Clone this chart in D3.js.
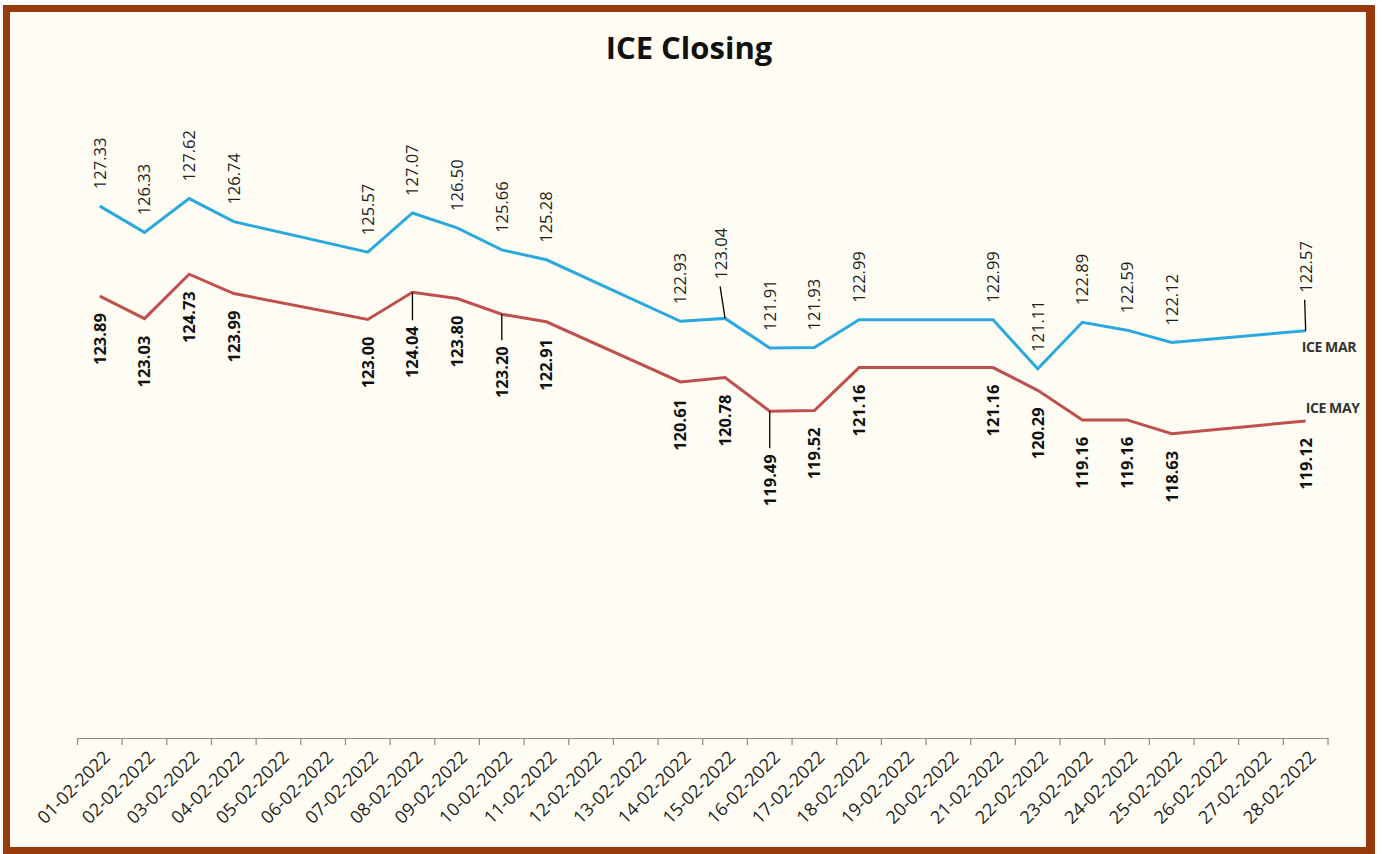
<!DOCTYPE html>
<html>
<head>
<meta charset="utf-8">
<script src="https://cdn.jsdelivr.net/npm/d3@7/dist/d3.min.js"></script>
<style>
  html, body { margin: 0; padding: 0; background: #ffffff; }
  svg { display: block; }
</style>
</head>
<body>
<svg id="chart" width="1382" height="854"></svg>
<script>
// ---------------- DATA ----------------
const chartTitle = "ICE Closing";
const categories = [
  "01-02-2022","02-02-2022","03-02-2022","04-02-2022","05-02-2022","06-02-2022","07-02-2022",
  "08-02-2022","09-02-2022","10-02-2022","11-02-2022","12-02-2022","13-02-2022","14-02-2022",
  "15-02-2022","16-02-2022","17-02-2022","18-02-2022","19-02-2022","20-02-2022","21-02-2022",
  "22-02-2022","23-02-2022","24-02-2022","25-02-2022","26-02-2022","27-02-2022","28-02-2022"
];
const tradeDates = [
  "01-02-2022","02-02-2022","03-02-2022","04-02-2022","07-02-2022","08-02-2022","09-02-2022",
  "10-02-2022","11-02-2022","14-02-2022","15-02-2022","16-02-2022","17-02-2022","18-02-2022",
  "21-02-2022","22-02-2022","23-02-2022","24-02-2022","25-02-2022","28-02-2022"
];
const iceMar = [127.33,126.33,127.62,126.74,125.57,127.07,126.50,125.66,125.28,122.93,
                123.04,121.91,121.93,122.99,122.99,121.11,122.89,122.59,122.12,122.57];
const iceMay = [123.89,123.03,124.73,123.99,123.00,124.04,123.80,123.20,122.91,120.61,
                120.78,119.49,119.52,121.16,121.16,120.29,119.16,119.16,118.63,119.12];
const seriesNames = ["ICE MAR", "ICE MAY"];

// ---------------- LAYOUT ----------------
const W = 1382, H = 854;
const plot = { left: 77.5, right: 1328, top: 84, bottom: 738 };
const colors = { mar: "#2BA9DE", may: "#C0504D", frame: "#983A0C", bg: "#FFFDF3" };
const FONT = "'Open Sans', Lato, sans-serif";

// label placement tweaks (distance from point to near end of label, horizontal shift, leader)
const labelTweaks = {
  "ICE MAR|15-02-2022": { off: 39, dx: -4, leader: true },
  "ICE MAR|28-02-2022": { off: 38, dx: 0, leader: true },
  "ICE MAY|08-02-2022": { off: 34, dx: 0, leader: true },
  "ICE MAY|10-02-2022": { off: 32, dx: 0, leader: true },
  "ICE MAY|16-02-2022": { off: 43, dx: 0, leader: true }
};

const svg = d3.select("#chart");

// frame
svg.append("rect").attr("x", 3).attr("y", 5).attr("width", 1372).attr("height", 849)
  .attr("fill", colors.frame);
svg.append("rect").attr("x", 10).attr("y", 12).attr("width", 1356).attr("height", 835)
  .attr("fill", "#F9FBF8");
svg.append("rect").attr("x", 12).attr("y", 14).attr("width", 1352).attr("height", 831)
  .attr("fill", colors.bg);

// scales
const x = d3.scaleBand().domain(categories).range([plot.left, plot.right]).padding(0);
const y = d3.scaleLinear().domain([107, 132]).range([plot.bottom, plot.top]);
const cx = d => x(d) + x.bandwidth() / 2;

// title
svg.append("text")
  .attr("x", 689).attr("y", 59)
  .attr("text-anchor", "middle")
  .attr("font-family", FONT).attr("font-weight", 700).attr("font-size", 31)
  .attr("fill", "#111")
  .text(chartTitle);

// x axis
const axisG = svg.append("g").attr("transform", `translate(0,${plot.bottom})`);
const axis = d3.axisBottom(x).tickSize(0).tickSizeOuter(0);
axisG.call(axis);
axisG.select(".domain").attr("stroke", "#8A8A8A").attr("stroke-width", 1.2);
axisG.selectAll(".tick text")
  .attr("font-family", FONT).attr("font-size", 18).attr("fill", "#1E1E1E")
  .attr("text-anchor", "end")
  .attr("transform", "translate(7,16) rotate(-45)")
  .attr("y", 0).attr("x", 0).attr("dy", "0.35em");
// boundary tick marks
const bounds = categories.map(d => x(d)).concat([x.range()[1]]);
axisG.selectAll("line.btick").data(bounds).join("line")
  .attr("class", "btick")
  .attr("x1", d => d).attr("x2", d => d)
  .attr("y1", 0).attr("y2", 7)
  .attr("stroke", "#8A8A8A").attr("stroke-width", 1.2);

// series
const series = [
  { name: seriesNames[0], values: iceMar, color: colors.mar, above: true },
  { name: seriesNames[1], values: iceMay, color: colors.may, above: false }
];
const line = d3.line().x(d => cx(d.date)).y(d => y(d.v));

series.forEach(s => {
  const pts = tradeDates.map((d, i) => ({ date: d, v: s.values[i] }));
  svg.append("path").datum(pts)
    .attr("fill", "none").attr("stroke", s.color).attr("stroke-width", 3)
    .attr("stroke-linejoin", "miter")
    .attr("d", line);

  const g = svg.append("g");
  pts.forEach(p => {
    const tw = labelTweaks[s.name + "|" + p.date] || { off: 17, dx: 0, leader: false };
    const px = cx(p.date), py = y(p.v);
    const lx = px + tw.dx;
    const ly = s.above ? py - tw.off : py + tw.off;
    if (tw.leader) {
      const ey = s.above ? ly + 7 : ly - 6;
      g.append("line")
        .attr("x1", px).attr("y1", py)
        .attr("x2", lx + (s.above ? -1 : 0)).attr("y2", ey)
        .attr("stroke", "#000").attr("stroke-width", 1.3);
    }
    g.append("text")
      .attr("transform", `translate(${lx},${ly}) rotate(-90)`)
      .attr("text-anchor", s.above ? "start" : "end")
      .attr("dy", "0.36em")
      .attr("font-family", FONT)
      .attr("font-size", s.above ? 16.5 : 16.5)
      .attr("font-weight", s.above ? 400 : 700)
      .attr("fill", s.above ? "#1E1E1E" : "#111")
      .text(p.v.toFixed(2));
  });
});

// series name labels
const lastMar = iceMar[iceMar.length - 1], lastMay = iceMay[iceMay.length - 1];
const lastDate = tradeDates[tradeDates.length - 1];
svg.append("text")
  .attr("x", cx(lastDate) - 4).attr("y", y(lastMar) + 16)
  .attr("dy", "0.35em")
  .attr("font-family", FONT).attr("font-weight", 700).attr("font-size", 14)
  .attr("letter-spacing", -0.4)
  .attr("fill", "#333").text(seriesNames[0]);
svg.append("text")
  .attr("x", cx(lastDate)).attr("y", y(lastMay) - 13)
  .attr("dy", "0.35em")
  .attr("font-family", FONT).attr("font-weight", 700).attr("font-size", 14)
  .attr("letter-spacing", -0.4)
  .attr("fill", "#333").text(seriesNames[1]);
</script>
</body>
</html>
